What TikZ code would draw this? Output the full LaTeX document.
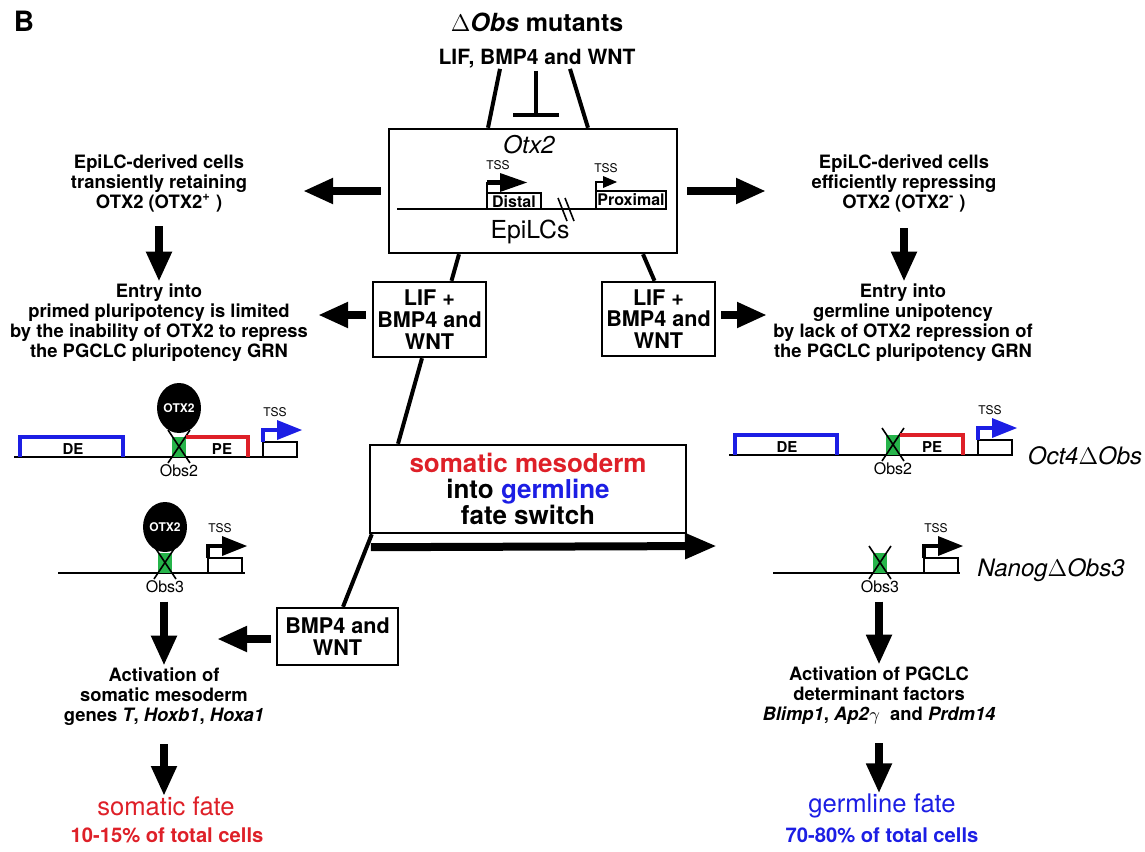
\documentclass[tikz,border=0pt]{standalone}
\usepackage{fontspec}
\setmainfont{TeX Gyre Heros}
\usetikzlibrary{arrows.meta,shapes.geometric,positioning,calc}
\definecolor{fateRed}{RGB}{222,32,40}
\definecolor{fateBlue}{RGB}{28,30,228}
\definecolor{obsGreen}{RGB}{38,180,74}
\tikzset{
  txt/.style={font=\fontsize{9.2}{10}\selectfont\bfseries, align=center, inner sep=1pt},
  condbox/.style={draw, line width=1.2pt, font=\fontsize{10.8}{10.9}\selectfont\bfseries,
    align=center, inner sep=0pt},
  fatArrow/.style={-{Triangle[length=15pt,width=12pt]}, line width=3.8pt},
  bigArrow/.style={-{Triangle[length=16pt,width=12pt]}, line width=4pt},
  link/.style={line width=2pt},
  dna/.style={line width=1.4pt},
  tss/.style={font=\fontsize{6}{6}\selectfont, inner sep=0pt},
  obslbl/.style={font=\fontsize{8}{8}\selectfont, inner sep=0pt},
  elem/.style={font=\fontsize{7.5}{7.5}\selectfont\bfseries, inner sep=0pt},
  otxblob/.style={ellipse, fill=black, text=white, minimum width=17pt, minimum height=25pt,
    inner sep=0pt, font=\fontsize{6}{6}\selectfont\bfseries},
  allele/.style={font=\fontsize{12}{12}\selectfont\itshape, inner sep=0pt}
}
% x, y of the DNA line, label, name
\newcommand\obssite[4]{%
  \fill[obsGreen] (#1,#2-20) rectangle (#1+14,#2);
  \draw[line width=0.8pt] (#1-4,#2-27) -- (#1+18,#2+6) (#1+18,#2-27) -- (#1-4,#2+6);
  \node[obslbl] (#4) at (#1+7,#2+14) {#3};}
% x, y of the DNA line, colour, name
\newcommand\promoter[4]{%
  \draw[line width=0.9pt] (#1,#2) -- (#1,#2-15) -- (#1+34,#2-15) -- (#1+34,#2);
  \draw[#3, line width=2.4pt] (#1,#2-15) -- (#1,#2-27) -- (#1+16,#2-27);
  \fill[#3] (#1+14,#2-37) -- (#1+39,#2-27) -- (#1+14,#2-17) -- cycle;
  \node[tss] (#4) at (#1+12,#2-45) {TSS};}

\begin{document}
\begin{tikzpicture}[x=0.5pt, y=-0.5pt]
\useasboundingbox (0,0) rectangle (1145,851);

\node[font=\fontsize{14}{14}\selectfont\bfseries, inner sep=0pt] (panel) at (24,21) {B};
\node[font=\fontsize{12.5}{13}\selectfont\bfseries, inner sep=0pt] (mut) at (537,22)
  {$\Delta$\textit{Obs} mutants};
\node[font=\fontsize{10.5}{11}\selectfont\bfseries, inner sep=0pt] (lif) at (537,59)
  {LIF, BMP4 and WNT};

\node[draw, line width=1.2pt, minimum width=144pt, minimum height=62pt, inner sep=0pt]
  (otx) at (533,191) {};
\node[font=\fontsize{12.2}{12}\selectfont\itshape, inner sep=0pt] (otxname) at (529,145) {Otx2};
\node[font=\fontsize{12.4}{12}\selectfont, inner sep=0pt] (epilc) at (530,232) {EpiLCs};
\draw[dna] (397,209) -- (665,209);
\draw[line width=0.8pt] (487,193) rectangle (541,209);
\node[font=\fontsize{8}{8}\selectfont\bfseries, inner sep=0pt] (distal) at (514,202) {Distal};
\draw[line width=1pt] (487,193) -- (487,182);
\draw[line width=2.5pt] (487,182) -- (502,182);
\fill (500,173) -- (527,182.5) -- (500,192) -- cycle;
\node[tss] (tssD) at (498,165) {TSS};
\draw[line width=0.8pt] (596,191) rectangle (666,209);
\node[font=\fontsize{8}{8}\selectfont\bfseries, inner sep=0pt] (prox) at (631,200) {Proximal};
\draw[line width=0.9pt] (596,191) -- (596,182) -- (605,182);
\fill (603,176) -- (617,182) -- (603,188) -- cycle;
\node[tss] (tssP) at (606,168) {TSS};
\draw[line width=0.8pt] (558,198) -- (567,221) (565,198) -- (574,221);

\coordinate (block) at (536,117);
\draw[link] ([xshift=-18.5pt]lif.south) -- ([xshift=-22.5pt]otx.north);
\draw[link] ([xshift=16.5pt]lif.south) -- ([xshift=27.5pt]otx.north);
\draw[link, -{Bar[width=23pt]}] ([xshift=-0.5pt,yshift=-1pt]lif.south) -- (block);

\node[txt] (epiL) at (159,183) {EpiLC-derived cells\\transiently retaining\\OTX2 (OTX2\textsuperscript{+} )};
\node[txt] (epiR) at (904,183) {EpiLC-derived cells\\efficiently repressing\\OTX2 (OTX2\textsuperscript{-} )};
\node[txt] (entryL) at (159,323) {Entry into\\primed pluripotency is limited\\by the inability of OTX2 to repress\\the PGCLC pluripotency GRN};
\node[txt] (entryR) at (903,323) {Entry into\\germline unipotency\\by lack of OTX2 repression of\\the PGCLC pluripotency GRN};

\coordinate (tipL) at (303,191);
\coordinate (tipR) at (766,191);
\draw[fatArrow, shorten <=3.5pt] (otx.west) -- (tipL);
\draw[fatArrow, shorten <=4.5pt] (otx.east) -- (tipR);
\draw[fatArrow, shorten <=6pt] (epiL.south) -- (epiL.south |- entryL.north);
\draw[fatArrow, shorten <=7pt] (epiR.south) -- (epiR.south |- entryR.north);

\node[condbox, minimum width=56.5pt, minimum height=37.5pt] (lifL) at (429.5,319.5) {LIF +\\BMP4 and\\WNT};
\node[condbox, minimum width=56.5pt, minimum height=37pt] (lifR) at (658.5,319) {LIF +\\BMP4 and\\WNT};
\draw[link] ([xshift=-37pt]otx.south) -- ([xshift=11pt]lifL.north);
\draw[link] ([xshift=55pt]otx.south) -- ([xshift=-2pt]lifR.north);
\coordinate (tipLL) at (318,315);
\coordinate (tipRR) at (767,315);
\draw[fatArrow, shorten <=3pt] ([yshift=2.25pt]lifL.west) -- (tipLL);
\draw[fatArrow, shorten <=2.5pt] ([yshift=2pt]lifR.east) -- (tipRR);

\node[condbox, minimum width=158pt, minimum height=44pt, font=\fontsize{13}{13}\selectfont\bfseries]
  (fate) at (528,489) {\textcolor{fateRed}{somatic mesoderm}\\into \textcolor{fateBlue}{germline}\\fate switch};
\node[condbox, minimum width=60.5pt, minimum height=28.5pt] (bmp) at (337.5,636.5) {BMP4 and\\WNT};
\draw[link] ([xshift=-3.75pt]lifL.south) -- ([xshift=-65pt]fate.north);
\draw[link] ([xshift=1.5pt]fate.south west) -- ([xshift=2.75pt]bmp.north);
\coordinate (tipF) at (717,546);
\draw[bigArrow] ([shift={(1pt,-6.5pt)}]fate.south west) -- (tipF);
\coordinate (tipB) at (217,639);
\draw[fatArrow, shorten <=2.5pt] ([yshift=-1.25pt]bmp.west) -- (tipB);

\draw[dna] (14,457) -- (298,457);
\draw[fateBlue, line width=1.8pt] (20,457) -- (20,437) -- (123,437) -- (123,457);
\node[elem] (deL) at (73,449) {DE};
\obssite{172}{457}{Obs2}{obsL2}
\draw[fateRed, line width=1.8pt] (186,437) -- (248,437) -- (248,457);
\node[elem] (peL) at (222,449) {PE};
\node[otxblob] (otxL2) at (179,408) {OTX2};
\promoter{263}{457}{fateBlue}{tssL2}

\draw[dna] (58,573) -- (245,573);
\obssite{158}{573}{Obs3}{obsL3}
\node[otxblob] (otxL3) at (165,527) {OTX2};
\promoter{208}{573}{black}{tssL3}

\draw[dna] (729,455) -- (1013,455);
\draw[fateBlue, line width=1.8pt] (735,455) -- (735,435) -- (837,435) -- (837,455);
\node[elem] (deR) at (787,447) {DE};
\obssite{886}{455}{Obs2}{obsR2}
\draw[fateRed, line width=1.8pt] (900,435) -- (963,435) -- (963,455);
\node[elem] (peR) at (932,447) {PE};
\promoter{978}{455}{fateBlue}{tssR2}
\node[allele] (oct4) at (1085,456) {Oct4$\Delta$Obs};

\draw[dna] (773,573) -- (960,573);
\obssite{873}{573}{Obs3}{obsR3}
\promoter{924}{573}{black}{tssR3}
\node[allele] (nanog) at (1051,570) {Nanog$\Delta$Obs3};

\node[txt] (actL) at (164,697) {Activation of\\somatic mesoderm\\genes \textit{T}, \textit{Hoxb1}, \textit{Hoxa1}};
\node[txt] (actR) at (879,696) {Activation of PGCLC\\determinant factors\\\textit{Blimp1}, \textit{Ap2}{\mdseries$\gamma$}~ and \textit{Prdm14}};
\draw[fatArrow, shorten <=4pt] (actL.north |- obsL3.south) -- (actL.north);
\draw[fatArrow, shorten <=4pt] (actR.north |- obsR3.south) -- (actR.north);

\node[font=\fontsize{12.8}{13}\selectfont, text=fateRed, inner sep=0pt] (somFate) at (166,806) {somatic fate};
\node[font=\fontsize{10.1}{10}\selectfont\bfseries, text=fateRed, inner sep=0pt] (somPct) at (167,835) {10-15\% of total cells};
\node[font=\fontsize{12.8}{13}\selectfont, text=fateBlue, inner sep=0pt] (germFate) at (882,806) {germline fate};
\node[font=\fontsize{10.1}{10}\selectfont\bfseries, text=fateBlue, inner sep=0pt] (germPct) at (882,835) {70-80\% of total cells};
\draw[fatArrow, shorten <=8pt] (actL.south) -- (actL.south |- somFate.north);
\draw[fatArrow, shorten <=8pt] (actR.south) -- (actR.south |- germFate.north);
\end{tikzpicture}
\end{document}
